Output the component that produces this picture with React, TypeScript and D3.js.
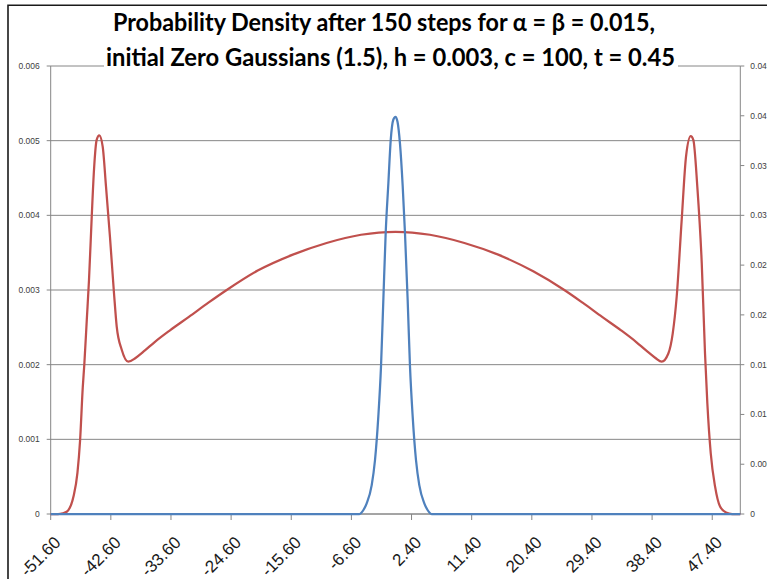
import React, { useEffect, useRef } from 'react';
import * as d3 from 'd3';

// x tick labels (category positions)
const xTickValues = [-51.6, -42.6, -33.6, -24.6, -15.6, -6.6, 2.4, 11.4, 20.4, 29.4, 38.4, 47.4];
const leftTicks = [0, 0.001, 0.002, 0.003, 0.004, 0.005, 0.006];
const rightTicks = [0, 0.005, 0.01, 0.015, 0.02, 0.025, 0.03, 0.035, 0.04, 0.045];

const titleLines = [
  'Probability Density after 150 steps for α = β = 0.015,',
  'initial Zero Gaussians (1.5), h = 0.003, c = 100, t = 0.45',
];

// red series (primary axis)
const redX = [
  -51.6, -50.5, -49.8, -49.2, -48.2, -47.6, -47.2, -46.8, -46.57, -46.2, -45.87, -45.46, -45.12, -44.72,
  -44.33, -43.82, -43.32, -42.73, -42.13, -41.72, -40.97, -39.99, -38.9, -37.5, -36.08, -33.75, -30.92,
  -28.0, -25.26, -20.62, -15.46, -10.31, -5.16, 0, 5.15, 10.31, 15.46, 20.61, 25.26, 28.0, 30.92, 33.75,
  36.07, 37.5, 38.9, 39.84, 40.83, 41.49, 42.08, 42.83, 43.48, 44.18, 44.57, 45.17, 45.83, 46.32, 46.67,
  47.18, 47.82, 48.57, 49.47, 50.4, 51.6,
];
const redY = [
  0, 0, 0.00001, 0.00003, 0.00023, 0.00055, 0.00099, 0.0017, 0.002, 0.0026, 0.00313, 0.00398, 0.00461, 0.00501,
  0.00507, 0.00492, 0.00438, 0.00371, 0.00296, 0.00251, 0.0022, 0.00204, 0.00209, 0.00219, 0.0023, 0.00246,
  0.00264, 0.00283, 0.003, 0.00326, 0.00347, 0.00363, 0.00374, 0.00378, 0.00374, 0.00363, 0.00347, 0.00325,
  0.003, 0.00283, 0.00264, 0.00246, 0.0023, 0.00219, 0.00209, 0.00204, 0.00215, 0.00242, 0.00291, 0.00394,
  0.00479, 0.00506, 0.00501, 0.00438, 0.00336, 0.00215, 0.00148, 0.00081, 0.00037, 0.0001, 0.00002, 0, 0,
];

// blue series (secondary axis)
const blueX = [
  -51.6, -5.4, -4.8, -4.31, -3.56, -3.07, -2.57, -2.17, -1.82, -1.47, -1.07, -0.71, -0.33, 0, 0.3, 0.67,
  1.08, 1.42, 1.82, 2.17, 2.57, 3.07, 3.56, 4.31, 4.8, 5.4, 51.6,
];
const blueY = [
  0, 0, 0.0004, 0.00107, 0.0029, 0.0054, 0.0098, 0.0148, 0.0215, 0.0282, 0.0332, 0.0376, 0.0396, 0.0399, 0.0394,
  0.0372, 0.0329, 0.0282, 0.0215, 0.0148, 0.0098, 0.0054, 0.0029, 0.00107, 0.0004, 0, 0,
];

const fmt = (d: number) => (d === 0 ? '0' : String(+d.toFixed(3)));

const App: React.FC = () => {
  const ref = useRef<SVGSVGElement | null>(null);

  useEffect(() => {
    if (!ref.current) return;
    const W = 767, H = 579;
    const left = 50.7, right = 740.3, top = 66, bottom = 514;
    const axisColor = '#868686';

    const svg = d3.select(ref.current).attr('width', W).attr('height', H);
    svg.selectAll('*').remove();

    svg.append('rect').attr('width', W).attr('height', H).attr('fill', '#fff');

    const x = d3.scaleLinear().domain([-51.6, 51.6]).range([left, right]);
    const yL = d3.scaleLinear().domain([0, 0.006]).range([bottom, top]);
    const yR = d3.scaleLinear().domain([0, 0.045]).range([bottom, top]);

    // gridlines
    svg.append('g')
      .selectAll('line')
      .data(leftTicks)
      .join('line')
      .attr('x1', left - 4).attr('x2', right)
      .attr('y1', d => yL(d)).attr('y2', d => yL(d))
      .attr('stroke', axisColor).attr('stroke-width', 1);

    // left axis
    svg.append('line')
      .attr('x1', left).attr('x2', left).attr('y1', top).attr('y2', bottom)
      .attr('stroke', axisColor);
    svg.append('g')
      .selectAll('text')
      .data(leftTicks)
      .join('text')
      .attr('x', left - 11).attr('y', d => yL(d)).attr('dy', '0.35em')
      .attr('text-anchor', 'end')
      .attr('font-family', 'Liberation Sans, Arial, sans-serif').attr('font-size', 8.5)
      .attr('fill', '#404040')
      .text(d => fmt(d));

    // right axis
    svg.append('line')
      .attr('x1', right).attr('x2', right).attr('y1', top).attr('y2', bottom)
      .attr('stroke', axisColor);
    svg.append('g')
      .selectAll('line')
      .data(rightTicks)
      .join('line')
      .attr('x1', right).attr('x2', right + 4)
      .attr('y1', d => yR(d)).attr('y2', d => yR(d))
      .attr('stroke', axisColor);
    svg.append('g')
      .selectAll('text')
      .data(rightTicks)
      .join('text')
      .attr('x', right + 10).attr('y', d => yR(d)).attr('dy', '0.35em')
      .attr('font-family', 'Liberation Sans, Arial, sans-serif').attr('font-size', 8.5)
      .attr('fill', '#404040')
      .text(d => fmt(d));

    // x axis
    svg.append('line')
      .attr('x1', left).attr('x2', right).attr('y1', bottom).attr('y2', bottom)
      .attr('stroke', axisColor);
    svg.append('g')
      .selectAll('line')
      .data(xTickValues)
      .join('line')
      .attr('x1', d => x(d)).attr('x2', d => x(d))
      .attr('y1', bottom).attr('y2', bottom + 6)
      .attr('stroke', axisColor);
    svg.append('g')
      .selectAll('text')
      .data(xTickValues)
      .join('text')
      .attr('transform', d => `translate(${x(d) + 11},${bottom + 29.5}) rotate(-45)`)
      .attr('text-anchor', 'end')
      .attr('font-family', 'Liberation Sans, Arial, sans-serif').attr('font-size', 17)
      .attr('fill', '#1a1a1a')
      .text(d => d.toFixed(2));

    // series
    const redData = redX.map((v, i) => [v, redY[i]] as [number, number]);
    const blueData = blueX.map((v, i) => [v, blueY[i]] as [number, number]);

    const redLine = d3.line<[number, number]>()
      .x(d => x(d[0]))
      .y(d => yL(d[1]))
      .curve(d3.curveMonotoneX);
    const blueLine = d3.line<[number, number]>()
      .x(d => x(d[0]))
      .y(d => yR(d[1]))
      .curve(d3.curveMonotoneX);

    svg.append('path')
      .datum(redData)
      .attr('d', redLine)
      .attr('fill', 'none')
      .attr('stroke', '#C0504D').attr('stroke-width', 2.25)
      .attr('stroke-linejoin', 'round');

    svg.append('path')
      .datum(blueData)
      .attr('d', blueLine)
      .attr('fill', 'none')
      .attr('stroke', '#4F81BD').attr('stroke-width', 2.25)
      .attr('stroke-linejoin', 'round');

    // title
    svg.append('rect')
      .attr('x', 104).attr('y', 8).attr('width', 574).attr('height', 66)
      .attr('fill', '#fff');
    const titleX = [113, 106];
    const titleW = [542, 569];
    const titleY = [31, 66];
    svg.append('g')
      .selectAll('text')
      .data(titleLines)
      .join('text')
      .attr('x', (_, i) => titleX[i]).attr('y', (_, i) => titleY[i])
      .attr('textLength', (_, i) => titleW[i])
      .attr('lengthAdjust', 'spacingAndGlyphs')
      .attr('font-family', 'Lato, Liberation Sans, sans-serif')
      .attr('font-weight', 700).attr('font-size', 24)
      .attr('fill', '#000')
      .text(d => d);

    // outer frame
    svg.append('path')
      .attr('d', `M8,${H + 2} L8,5.3 L${W + 2},5.3`)
      .attr('fill', 'none')
      .attr('stroke', '#1a1a1a').attr('stroke-width', 1.6);
  }, []);

  return (
    <svg ref={ref} style={{ position: 'absolute', left: 0, top: 0, display: 'block' }} />
  );
};

export default App;
